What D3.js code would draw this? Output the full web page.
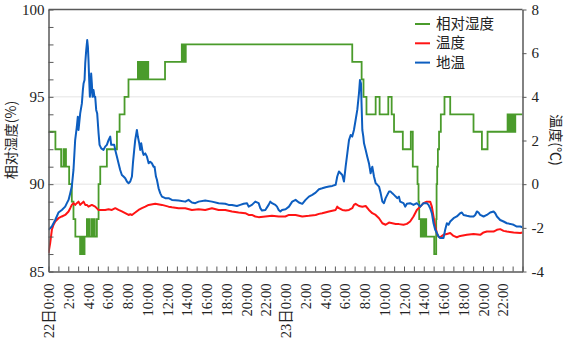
<!DOCTYPE html>
<html>
<head>
<meta charset="utf-8">
<script src="https://cdn.jsdelivr.net/npm/d3@7"></script>
<style>
  body { margin: 0; background: #fff; }
</style>
</head>
<body>
<svg id="chart" width="567" height="344"></svg>
<script>
// hours since 22日 0:00, value
var humidity = [[0,93],[0.7,92],[1.28,91],[1.52,92],[1.57,91],[1.62,92],[1.67,91],[1.72,92],[1.77,91],
  [2.09,90],[2.36,89],[2.53,88],[2.72,87],
  [3.2,86],[3.25,87],[3.3,86],[3.35,87],[3.4,86],[3.45,87],[3.5,86],[3.55,87],[3.6,86],[3.65,87],
  [3.89,88],[3.95,87],[4.12,88],[4.18,87],[4.39,88],[4.45,87],[4.63,88],[4.69,87],
  [4.9,88],[5.07,90],[5.24,91],[5.91,92],[6.93,93],[7.2,94],[7.7,95],[8.1,96],
  [9.05,97],[9.15,96],[9.25,97],[9.35,96],[9.45,97],[9.55,96],[9.65,97],[9.75,96],[9.85,97],[9.95,96],[10.05,97],[10.1,96],
  [11.8,97],[13.5,98],[13.6,97],[13.7,98],[13.8,97],[13.9,98],
  [30.76,97],[31.71,96],[31.9,95],[32.2,94],[33.13,95],[33.53,94],[34.41,95],[34.75,94],[34.99,93],
  [35.88,92],[36.69,93],[36.89,91],[37.37,90],[37.47,89],[37.54,88],
  [37.7,87],[37.8,88],[37.9,87],[38.0,88],[38.1,87],[38.2,88],[38.25,87],
  [39.06,86],[39.26,88],[39.3,90],[39.36,91],[39.43,92],[39.55,93],[39.73,94],[40.1,95],[40.68,94],
  [43.04,93],[43.89,92],[44.46,93],
  [46.49,94],[46.59,93],[46.69,94],[46.79,93],[46.89,94],[46.99,93],[47.09,94],[47.19,93],[47.27,94],[48,94]];

var airTemp = [[0,-3.16],[0.17,-2.7],[0.34,-2.09],[0.51,-1.86],[0.68,-1.71],[1.01,-1.56],[1.35,-1.48],[1.69,-1.41],
  [2.03,-1.25],[2.2,-1.1],[2.36,-0.95],[2.53,-0.87],[2.7,-0.95],[2.87,-0.87],[3.04,-0.8],[3.21,-0.95],[3.38,-0.87],
  [3.55,-0.8],[3.72,-0.95],[3.89,-0.95],[4.05,-1.03],[4.39,-0.95],[4.73,-1.03],[5.07,-1.18],[5.41,-1.18],[5.74,-1.18],
  [6.08,-1.15],[6.42,-1.18],[6.76,-1.1],[7.09,-1.18],[7.43,-1.25],[7.77,-1.33],[8.11,-1.41],[8.28,-1.38],[8.45,-1.41],
  [8.78,-1.3],[9.12,-1.18],[9.46,-1.1],[9.8,-1.03],[10.14,-0.95],[10.81,-0.9],[11.49,-0.95],[12.16,-1.03],
  [12.5,-1.06],[13.17,-1.1],[13.85,-1.1],[14.52,-1.18],[15.2,-1.15],[15.87,-1.18],[16.55,-1.1],[17.23,-1.18],
  [17.9,-1.18],[18.58,-1.25],[19.25,-1.3],[19.93,-1.33],[20.27,-1.41],[20.6,-1.41],[20.94,-1.48],[21.28,-1.51],
  [21.96,-1.48],[22.63,-1.45],[23.31,-1.48],[23.98,-1.48],
  [24.35,-1.41],[25.02,-1.41],[25.7,-1.48],[26.37,-1.45],[27.05,-1.41],[27.39,-1.36],[27.72,-1.33],[28.4,-1.25],
  [29.08,-1.18],[29.24,-1.03],[29.41,-1.1],[29.75,-1.18],[30.09,-1.21],[30.43,-1.18],[30.76,-1.1],[30.93,-0.95],
  [31.1,-0.9],[31.44,-1.0],[31.78,-1.03],[32.12,-1.0],[32.45,-1.18],[32.79,-1.33],[33.13,-1.41],[33.47,-1.56],
  [33.81,-1.79],[34.14,-1.86],[34.48,-1.76],[34.82,-1.79],[35.16,-1.82],[35.49,-1.83],
  [35.95,-1.86],[36.29,-1.82],[36.62,-1.71],[36.96,-1.48],[37.3,-1.18],[37.64,-1.03],[37.97,-0.87],[38.31,-0.8],
  [38.65,-0.8],[38.82,-1.03],[38.99,-1.48],[39.16,-1.94],[39.33,-2.24],[39.5,-2.4],[39.66,-2.43],[40.0,-2.32],
  [40.34,-2.28],[40.68,-2.24],[41.02,-2.37],[41.35,-2.43],[41.69,-2.37],[42.37,-2.32],[43.04,-2.28],[43.72,-2.32],
  [44.06,-2.21],[44.39,-2.17],[45.07,-2.17],[45.41,-2.09],[45.74,-2.06],[46.08,-2.14],[46.42,-2.17],[47.1,-2.21],
  [47.77,-2.24],[48,-2.21]];

var groundTemp = [[0,-2.09],[0.34,-1.94],[0.68,-1.64],[1.01,-1.3],[1.35,-1.18],[1.69,-1.03],[1.86,-0.87],[2.03,-0.72],
  [2.2,-0.42],[2.36,-0.11],[2.53,0.65],[2.7,2.02],[2.87,2.63],[2.97,3.09],[3.04,2.48],[3.21,3.24],[3.38,3.7],
  [3.48,4.31],[3.55,4.61],[3.65,4.77],[3.72,5.53],[3.82,6.14],[3.92,6.6],[3.99,6.29],[4.05,5.68],[4.12,4.77],
  [4.19,4.0],[4.26,4.31],[4.32,5.07],[4.39,4.61],[4.46,4.0],[4.56,4.31],[4.66,4.0],[4.73,4.0],[4.83,3.4],[4.93,3.24],
  [5.0,2.79],[5.07,2.33],[5.17,1.8],[5.34,1.64],[5.57,1.57],[5.74,1.72],[5.91,1.8],[6.08,2.02],[6.25,2.18],[6.35,1.8],
  [6.49,1.8],[6.66,1.8],[6.76,1.57],[6.93,1.26],[7.09,0.96],[7.26,0.65],[7.43,0.42],[7.6,0.35],[7.77,0.27],[7.94,0.12],
  [8.11,0.04],[8.28,0.12],[8.45,0.35],[8.55,0.96],[8.68,1.57],[8.78,2.02],[8.95,2.48],[9.05,2.18],[9.19,1.87],
  [9.29,1.57],[9.39,1.87],[9.53,1.49],[9.63,1.34],[9.8,1.41],[9.97,1.26],[10.14,0.96],[10.3,1.03],[10.47,0.96],
  [10.64,0.8],[10.74,0.8],[10.88,0.35],[10.98,0.2],[11.15,-0.19],[11.32,-0.42],[11.49,-0.57],[11.82,-0.64],
  [12.16,-0.64],[12.5,-0.72],[13.17,-0.75],[13.85,-0.8],[14.18,-0.72],[14.52,-0.84],[14.86,-0.87],[15.2,-0.8],
  [15.87,-0.75],[16.55,-0.8],[17.23,-0.87],[17.9,-0.9],[18.24,-0.95],[18.58,-0.95],[19.08,-1.0],[19.42,-0.95],
  [19.76,-0.9],[20.1,-0.87],[20.27,-1.03],[20.6,-0.95],[20.94,-0.8],[21.28,-0.87],[21.45,-1.1],[21.62,-1.21],
  [21.96,-1.18],[22.29,-0.95],[22.46,-0.8],[22.63,-0.87],[22.97,-0.95],[23.14,-1.03],[23.31,-1.18],[23.48,-1.25],
  [23.65,-1.18],[24.01,-1.15],[24.35,-1.03],[24.68,-0.8],[25.02,-0.72],[25.36,-0.84],[25.7,-0.9],[26.03,-0.72],
  [26.37,-0.57],[26.71,-0.49],[27.05,-0.39],[27.39,-0.23],[27.72,-0.19],[28.06,-0.14],[28.4,-0.11],[28.74,-0.08],
  [29.08,-0.03],[29.24,0.35],[29.41,0.58],[29.58,0.5],[29.75,0.42],[29.92,0.12],[30.09,0.8],[30.26,1.41],
  [30.43,2.02],[30.6,2.25],[30.76,2.18],[30.93,2.48],[31.1,2.94],[31.27,3.4],[31.44,4.16],[31.54,4.77],[31.64,4.62],
  [31.71,3.55],[31.78,2.48],[31.88,2.18],[31.95,1.87],[32.12,1.57],[32.28,1.26],[32.45,0.96],[32.62,0.5],
  [32.79,0.8],[32.96,0.35],[33.13,0.04],[33.3,-0.03],[33.47,-0.11],[33.64,-0.42],[33.81,-0.8],[33.97,-0.87],
  [34.14,-0.64],[34.31,-0.49],[34.48,-0.34],[34.65,-0.34],[34.82,-0.42],[34.99,-0.49],[35.16,-0.57],[35.33,-0.64],
  [35.49,-0.57],[35.61,-0.8],[35.95,-0.87],[36.12,-1.03],[36.29,-0.9],[36.62,-0.87],[36.96,-0.95],[37.3,-0.87],
  [37.64,-1.03],[37.97,-0.87],[38.31,-0.87],[38.48,-0.95],[38.65,-1.1],[38.82,-1.33],[38.99,-1.79],[39.16,-2.09],
  [39.33,-2.24],[39.5,-2.4],[39.66,-2.47],[40.0,-2.47],[40.17,-2.09],[40.34,-1.79],[40.51,-1.86],[40.68,-1.71],
  [41.02,-1.56],[41.35,-1.48],[41.69,-1.33],[41.86,-1.3],[42.03,-1.41],[42.37,-1.45],[42.7,-1.48],[43.04,-1.48],
  [43.21,-1.41],[43.38,-1.25],[43.55,-1.3],[43.72,-1.41],[44.06,-1.48],[44.39,-1.41],[44.73,-1.3],[45.07,-1.25],
  [45.24,-1.33],[45.41,-1.48],[45.74,-1.64],[46.08,-1.71],[46.42,-1.79],[46.76,-1.82],[47.1,-1.86],[47.43,-1.94],
  [47.77,-1.94],[48,-1.97]];

var hourTicks = d3.range(0, 49);
var humTicks = d3.range(85, 101);
var tempTicks = [-4, -2, 0, 2, 4, 6, 8];
var legendNames = ["相对湿度", "温度", "地温"];
var colors = ["#4a9b2b", "#ff1414", "#0d5ec0"];

var serif = '"Liberation Serif", "Times New Roman", "DejaVu Serif", "Noto Sans CJK SC", serif';
var cjk = '"Noto Sans CJK SC", sans-serif';

var padL = 48.5, padR = 522.5, padT = 9.5, padB = 271.5;
var svg = d3.select("#chart");

var x = d3.scaleLinear().domain([0, 48]).range([padL, padR]);
var yL = d3.scaleLinear().domain([85, 100]).range([padB, padT]);
var yR = d3.scaleLinear().domain([-4, 8]).range([padB, padT]);

// grid
svg.append("g").selectAll("line").data([90, 95]).enter().append("line")
  .attr("x1", padL).attr("x2", padR)
  .attr("y1", function(d) { return yL(d) }).attr("y2", function(d) { return yL(d) })
  .attr("stroke", "#e4e4e4").attr("stroke-width", 1);

svg.append("clipPath").attr("id", "clip").append("rect")
  .attr("x", padL).attr("y", padT).attr("width", padR - padL).attr("height", padB - padT);

var plot = svg.append("g").attr("clip-path", "url(#clip)");

var humLine = d3.line().curve(d3.curveStepAfter)
  .x(function(d) { return x(d[0]) }).y(function(d) { return yL(d[1]) });
var tempLine = d3.line()
  .x(function(d) { return x(d[0]) }).y(function(d) { return yR(d[1]) });

plot.append("path").datum(humidity).attr("d", humLine)
  .attr("fill", "none").attr("stroke", colors[0]).attr("stroke-width", 1.8);
plot.append("path").datum(airTemp).attr("d", tempLine)
  .attr("fill", "none").attr("stroke", colors[1]).attr("stroke-width", 2).attr("stroke-linejoin", "round");
plot.append("path").datum(groundTemp).attr("d", tempLine)
  .attr("fill", "none").attr("stroke", colors[2]).attr("stroke-width", 2).attr("stroke-linejoin", "round");

// axes
var axisColor = "#595959";

var gl = svg.append("g").attr("transform", "translate(" + padL + ",0)")
  .call(d3.axisLeft(yL).tickValues(humTicks).tickSize(-5).tickSizeOuter(0).tickPadding(4)
    .tickFormat(function(d) { return d % 5 === 0 ? d : "" }));

var gr = svg.append("g").attr("transform", "translate(" + padR + ",0)")
  .call(d3.axisRight(yR).tickValues(tempTicks).tickSize(4).tickSizeOuter(0).tickPadding(5)
    .tickFormat(function(d) { return String(d) }));

var gb = svg.append("g").attr("transform", "translate(0," + padB + ")")
  .call(d3.axisBottom(x).tickValues(hourTicks).tickSize(-5).tickSizeOuter(0)
    .tickFormat(function(d) {
      if (d % 2 !== 0 || d === 48) return "";
      if (d === 0) return "22日0:00";
      if (d === 24) return "23日0:00";
      return (d % 24) + ":00";
    }));

gb.selectAll("text")
  .attr("transform", "rotate(-90)")
  .attr("x", -12).attr("y", 0).attr("dy", "0.36em")
  .style("text-anchor", "end");

svg.append("line").attr("x1", padL).attr("x2", padR).attr("y1", padT).attr("y2", padT)
  .attr("stroke", axisColor).attr("stroke-width", 1.5);

[gl, gr, gb].forEach(function(g) {
  g.attr("font-family", null);
  g.selectAll(".domain").attr("stroke", axisColor).attr("stroke-width", 1.5);
  g.selectAll(".tick line").attr("stroke", axisColor);
  g.selectAll("text").style("font-family", serif).style("font-size", "15px").style("fill", "#222");
});
gb.selectAll("text").style("font-size", "14.5px");

// axis titles
svg.append("text")
  .attr("transform", "translate(16,140) rotate(-90)")
  .attr("text-anchor", "middle").style("font-family", cjk).style("font-size", "14px").style("fill", "#222")
  .text("相对湿度(%)");
svg.append("text")
  .attr("transform", "translate(551,140) rotate(90)")
  .attr("text-anchor", "middle").style("font-family", cjk).style("font-size", "14px").style("fill", "#222")
  .text("温度(℃)");

// legend
var lg = svg.append("g").selectAll("g").data(legendNames).enter().append("g")
  .attr("transform", function(d, i) { return "translate(415," + (24 + i * 19.3) + ")" });
lg.append("line").attr("x1", 0).attr("x2", 15)
  .attr("stroke", function(d, i) { return colors[i] }).attr("stroke-width", 2);
lg.append("text").attr("x", 21).attr("dy", "0.35em")
  .style("font-family", cjk).style("font-size", "14.5px").style("fill", "#222")
  .text(function(d) { return d });
</script>
</body>
</html>
